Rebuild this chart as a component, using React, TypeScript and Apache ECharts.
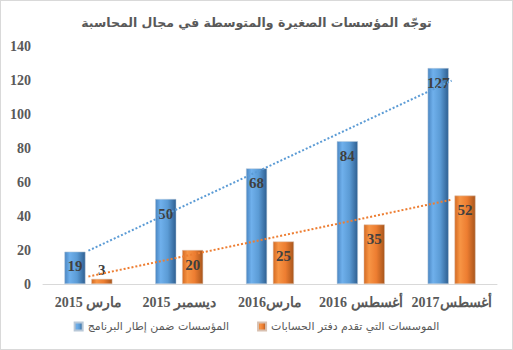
import React, { useEffect, useRef } from "react";
import * as echarts from "echarts";

const categories = ["مارس 2015", "ديسمبر 2015", "مارس2016", "أغسطس 2016", "أغسطس2017"];
const seriesNames = ["المؤسسات ضمن إطار البرنامج", "الموسسات التي تقدم دفتر الحسابات"];
const programValues = [19, 50, 68, 84, 127];
const accountsValues = [3, 20, 25, 35, 52];
// trendline endpoints (first and last category)
const programTrend = [19.6, 119.6];
const accountsTrend = [4.4, 49.6];
const yTicks = { min: 0, max: 140, interval: 20 };
const title = "توجّه المؤسسات الصغيرة والمتوسطة في مجال المحاسبة";

const BLUE = "#5b9bd5";
const ORANGE = "#ed7d31";
const TEXT = "#595959";

function barGradient(edge: string, mid: string, light: string, dark: string) {
  return new echarts.graphic.LinearGradient(0, 0, 1, 0, [
    { offset: 0, color: edge },
    { offset: 0.25, color: light },
    { offset: 0.6, color: mid },
    { offset: 1, color: dark },
  ]);
}

export default function App() {
  const ref = useRef<HTMLDivElement>(null);
  useEffect(() => {
    if (!ref.current) return;
    const chart = echarts.init(ref.current, null, { renderer: "svg" });
    const labelBase = {
      show: true,
      fontFamily: "Liberation Serif",
      fontWeight: "bold" as const,
      fontSize: 15,
      color: "#3f3f3f",
    };
    const mkData = (vals: number[]) =>
      vals.map((v) => ({
        value: v,
        label: v < 10 ? { position: "top" as const, distance: 1 } : { position: "insideTop" as const, distance: 7 },
      }));
    chart.setOption({
      animation: false,
      title: {
        text: title,
        left: "center",
        top: 10,
        textStyle: { fontSize: 12.5, fontWeight: "bold", color: TEXT, fontFamily: "DejaVu Sans" },
      },
      grid: { left: 42, right: 15, top: 45, bottom: 65 },
      legend: {
        data: seriesNames,
        bottom: 12,
        left: "center",
        icon: "rect",
        itemWidth: 8,
        itemHeight: 8,
        itemGap: 28,
        itemTextGap: 6,
        textStyle: { fontSize: 11, color: TEXT, fontFamily: "DejaVu Sans" },
      },
      xAxis: {
        type: "category",
        data: categories,
        axisLine: { lineStyle: { color: "#d9d9d9" } },
        axisTick: { show: false },
        axisLabel: {
          interval: 0,
          color: TEXT,
          fontSize: 14,
          fontWeight: "bold",
          fontFamily: "Liberation Serif",
          margin: 11,
        },
      },
      yAxis: {
        type: "value",
        min: yTicks.min,
        max: yTicks.max,
        interval: yTicks.interval,
        splitLine: { show: false },
        axisLine: { show: false },
        axisTick: { show: false },
        axisLabel: {
          color: TEXT,
          fontSize: 14,
          fontWeight: "bold",
          fontFamily: "Liberation Serif",
          margin: 12,
        },
      },
      series: [
        {
          name: seriesNames[0],
          type: "bar",
          data: mkData(programValues),
          barWidth: 21,
          barGap: "28%",
          itemStyle: {
            color: barGradient("#4a86c2", BLUE, "#6fb0ec", "#2e5f91"),
            borderColor: "#b8c8d8",
            borderWidth: 0.5,
          },
          label: labelBase,
        },
        {
          name: seriesNames[1],
          type: "bar",
          data: mkData(accountsValues),
          barWidth: 21,
          itemStyle: {
            color: barGradient("#d46a22", ORANGE, "#f79545", "#a8561c"),
            borderColor: "#d8c0b0",
            borderWidth: 0.5,
          },
          label: labelBase,
        },
        {
          name: "trend1",
          type: "line",
          data: [[0, programTrend[0]], [categories.length - 1, programTrend[1]]],
          symbol: "none",
          lineStyle: { color: BLUE, width: 2, type: [2, 2] },
          z: 5,
          silent: true,
        },
        {
          name: "trend2",
          type: "line",
          data: [[0, accountsTrend[0]], [categories.length - 1, accountsTrend[1]]],
          symbol: "none",
          lineStyle: { color: ORANGE, width: 2, type: [2, 2] },
          z: 5,
          silent: true,
        },
      ],
    });
    return () => chart.dispose();
  }, []);
  return (
    <div
      style={{
        position: "absolute",
        left: 0,
        top: 0,
        width: 513,
        height: 350,
        boxSizing: "border-box",
        border: "1px solid #d9d9d9",
        background: "#fff",
      }}
    >
      <div ref={ref} style={{ width: 511, height: 348 }} />
    </div>
  );
}
